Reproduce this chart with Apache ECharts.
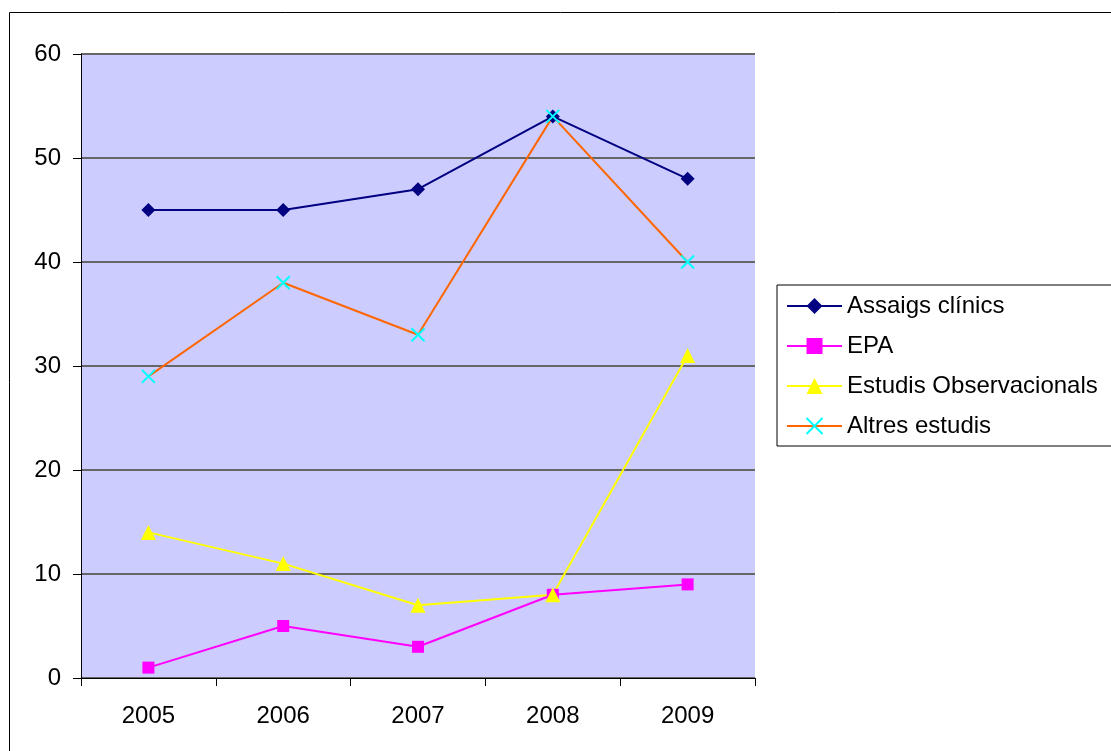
<!DOCTYPE html>
<html>
<head>
<meta charset="utf-8">
<script src="https://cdn.jsdelivr.net/npm/echarts@6/dist/echarts.min.js"></script>
<style>html,body{margin:0;padding:0;background:#fff}#c{width:1111px;height:751px}</style>
</head>
<body>
<div id="c"></div>
<script>
var categories = ['2005', '2006', '2007', '2008', '2009'];
var assaigs = [45, 45, 47, 54, 48];
var epa = [1, 5, 3, 8, 9];
var observacionals = [14, 11, 7, 8, 31];
var altres = [29, 38, 33, 54, 40];
var seriesNames = ['Assaigs clínics', 'EPA', 'Estudis Observacionals', 'Altres estudis'];

var chart = echarts.init(document.getElementById('c'));
var font = 'Liberation Sans, Arial, sans-serif';
var xPath = 'path://M0,0L10,10M10,0L0,10';
chart.setOption({
  animation: false,
  backgroundColor: '#ffffff',
  graphic: [{
    type: 'rect', shape: {x: 9.5, y: 12.5, width: 1200, height: 800},
    style: {fill: 'none', stroke: '#000', lineWidth: 1}, z: -10
  }],
  grid: {left: 81, top: 54, right: 356, bottom: 73, show: true, backgroundColor: '#CCCCFF', borderWidth: 0},
  legend: {
    orient: 'vertical', left: 777, top: 285,
    padding: [9, 20, 8, 9],
    itemWidth: 55, itemHeight: 20, itemGap: 16,
    borderColor: '#000', borderWidth: 1, backgroundColor: '#fff',
    textStyle: {fontFamily: font, fontSize: 24, color: '#000', lineHeight: 24},
    data: seriesNames
  },
  xAxis: {
    type: 'category', data: categories, boundaryGap: true,
    axisLine: {lineStyle: {color: '#000', width: 1}},
    axisTick: {show: true, length: 8, lineStyle: {color: '#000'}},
    axisLabel: {fontFamily: font, fontSize: 24, color: '#000', margin: 26},
    splitLine: {show: false}
  },
  yAxis: {
    type: 'value', min: 0, max: 60, interval: 10,
    axisLine: {show: true, lineStyle: {color: '#000', width: 1}},
    axisTick: {show: true, length: 8, lineStyle: {color: '#000'}},
    axisLabel: {fontFamily: font, fontSize: 24, color: '#000', margin: 20},
    splitLine: {show: true, lineStyle: {color: '#666', width: 2}}
  },
  series: [
    {name: seriesNames[0], type: 'line', data: assaigs, symbol: 'diamond', symbolSize: 14,
     lineStyle: {color: '#000080', width: 2}, itemStyle: {color: '#000080'}},
    {name: seriesNames[1], type: 'line', data: epa, symbol: 'rect', symbolSize: 12,
     lineStyle: {color: '#FF00FF', width: 2}, itemStyle: {color: '#FF00FF'}},
    {name: seriesNames[2], type: 'line', data: observacionals, symbol: 'triangle', symbolSize: 15,
     lineStyle: {color: '#FFFF00', width: 2}, itemStyle: {color: '#FFFF00'}},
    {name: seriesNames[3], type: 'line', data: altres, symbol: xPath, symbolSize: 13,
     lineStyle: {color: '#FF6600', width: 2}, itemStyle: {color: '#00FFFF', borderColor: '#00FFFF', borderWidth: 2}}
  ]
});
</script>
</body>
</html>
